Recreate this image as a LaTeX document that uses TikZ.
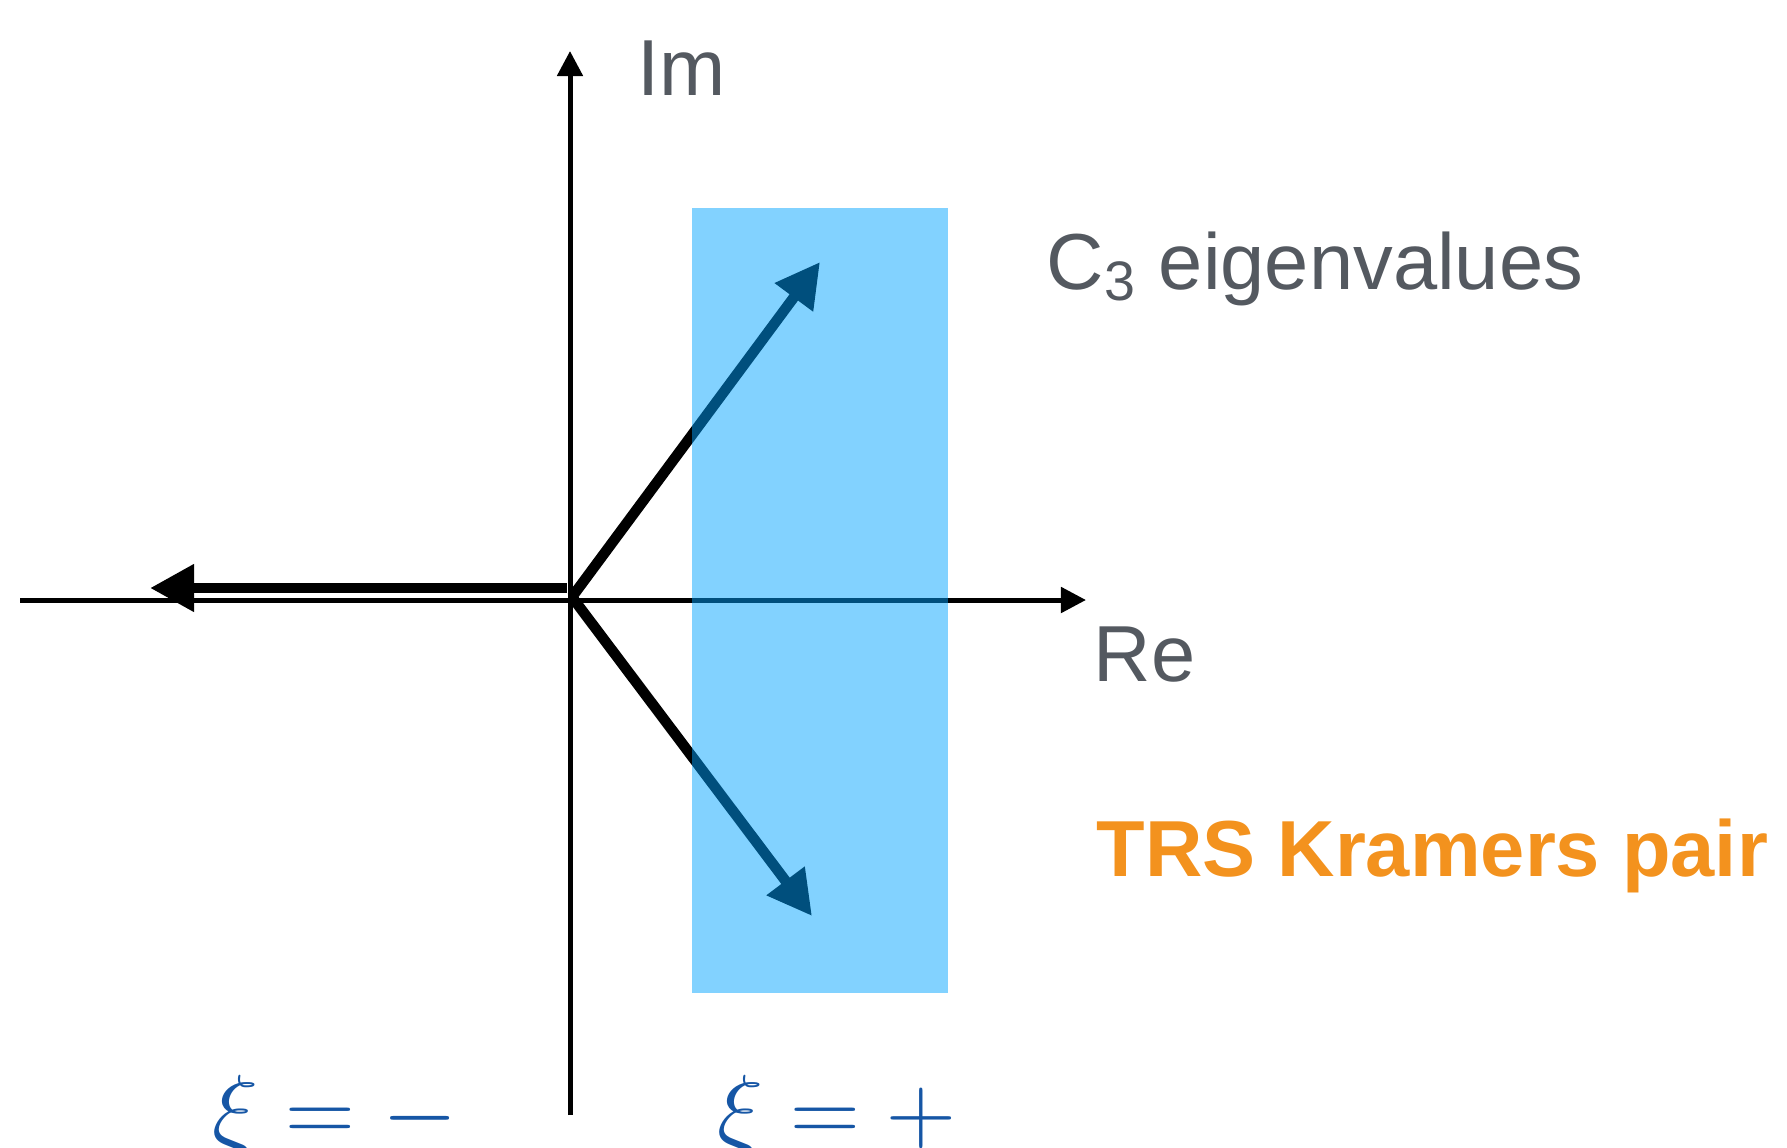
\RequirePackage{fix-cm}
\documentclass[tikz,border=0pt]{standalone}
\usepackage{fontspec}
\setmainfont{Liberation Sans}
\usetikzlibrary{arrows.meta}

\definecolor{txtgray}{RGB}{84,89,96}
\definecolor{krorange}{RGB}{243,146,30}
\definecolor{xiblue}{RGB}{22,86,165}
\definecolor{boxblue}{RGB}{0,163,255}

\tikzset{
  axisline/.style={line width=0.05cm,-{Triangle[length=0.25cm,width=0.25cm]}},
  eigarrow/.style={line width=0.105cm,-{Triangle[length=0.44cm,width=0.45cm]}},
  axlabel/.style={inner sep=0,anchor=base west,text=txtgray,font=\fontsize{22.6}{26}\selectfont},
  xilabel/.style={inner sep=0,anchor=base west,text=xiblue,font=\fontsize{27.5}{32}\selectfont}
}

\begin{document}
\begin{tikzpicture}[x=0.01cm,y=-0.01cm]
\useasboundingbox (0,0) rectangle (1787,1148);
% axes
\coordinate (O) at (570,600);
\coordinate (reL) at (20,600);
\coordinate (reR) at (1086,600);
\coordinate (imB) at (570,1115);
\coordinate (imT) at (570,51);
\draw[axisline] (reL) -- (reR);
\draw[axisline] (imB) -- (imT);
% eigenvalues
\coordinate (s0) at (567,588);
\coordinate (e0) at (150,588);
\coordinate (s1) at (572,597);
\coordinate (e1) at (820,262);
\coordinate (e2) at (812,916);
\draw[eigarrow] (s0) -- (e0);
\draw[eigarrow] (s1) -- (e1);
\draw[eigarrow] (s1) -- (e2);
% Kramers pair box
\fill[boxblue,fill opacity=0.49] (692,208) rectangle (948,993);
% labels
\node[axlabel] (im) at (637,95) {Im};
\node[axlabel] (re) at (1093,681) {Re};
\node[axlabel] (c3) at (1046,289) {C\textsubscript{3} eigenvalues};
\node[axlabel,text=krorange,font=\fontsize{22.6}{26}\selectfont\bfseries] (trs) at (1096,876) {TRS Kramers pair};
\node[xilabel] (ximinus) at (212,1142) {$\xi = -$};
\node[xilabel] (xiplus) at (717,1142) {$\xi = +$};
\end{tikzpicture}
\end{document}
